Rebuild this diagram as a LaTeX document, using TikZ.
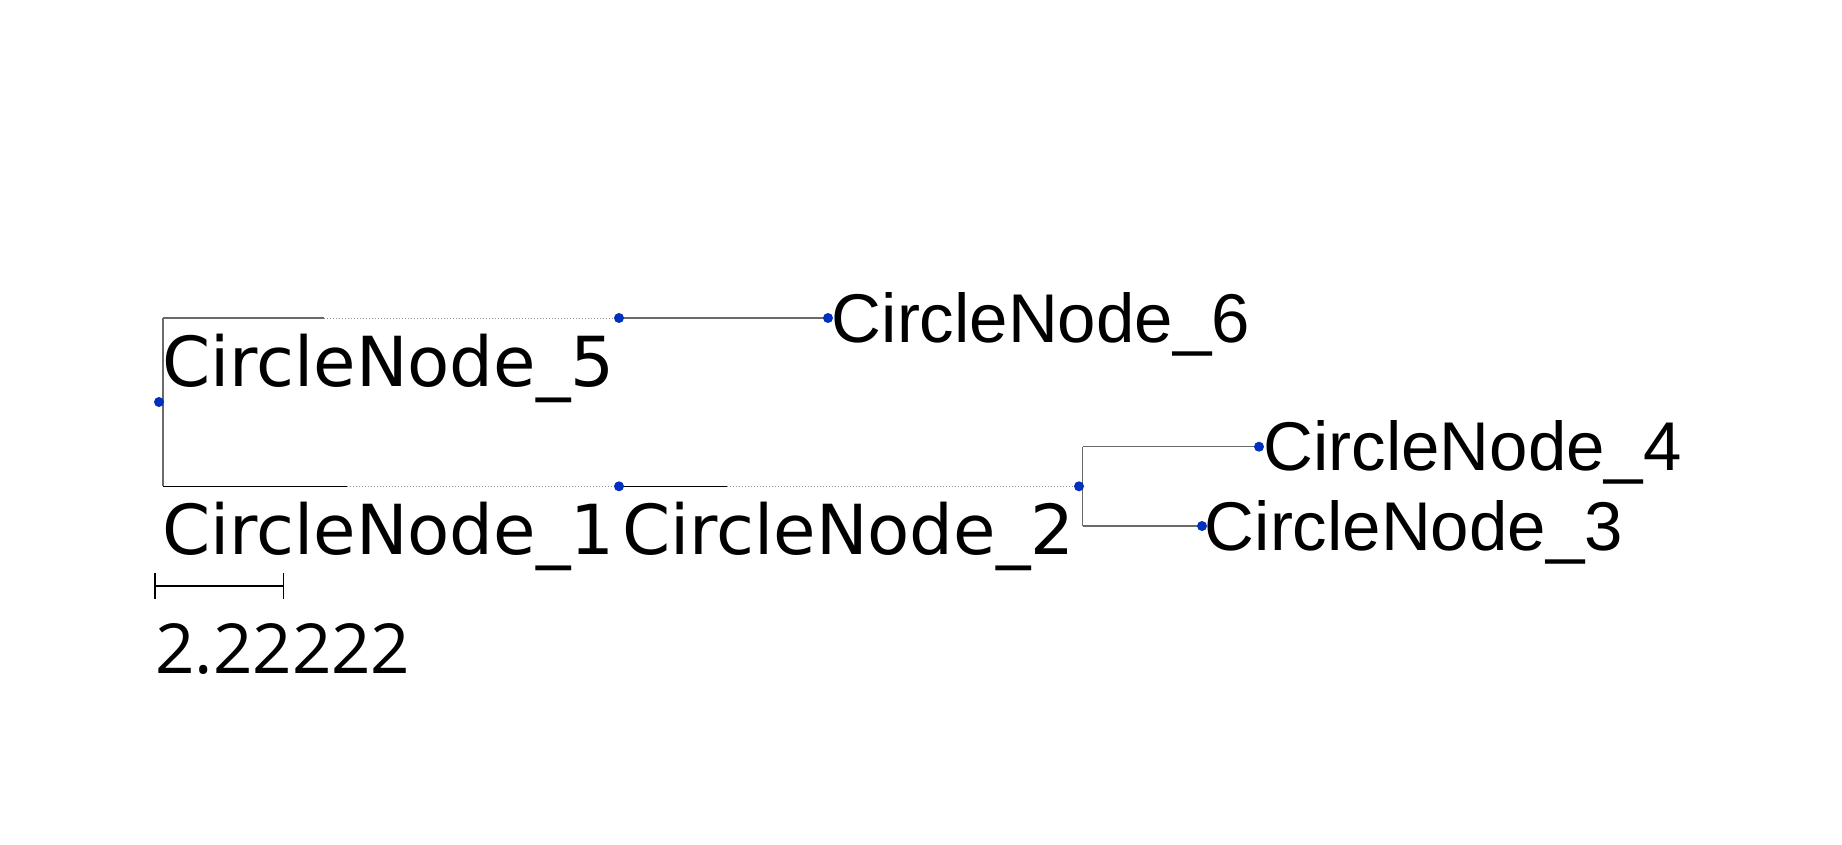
\documentclass[tikz,border=0pt]{standalone}
\usepackage{fontspec}
\setmainfont{DejaVu Sans}
\newfontfamily\arialf{Liberation Sans}
\newfontfamily\scalef{Open Sans}
\usetikzlibrary{backgrounds}
\definecolor{dotblue}{HTML}{0030C0}
\definecolor{brgray}{HTML}{6A6A6A}
\definecolor{dotgray}{HTML}{909090}
\begin{document}
\begin{tikzpicture}[x=0.75pt,y=-0.75pt,
  dotnode/.style={circle,fill=dotblue,draw=none,inner sep=0pt,minimum size=7.5pt},
  lbl/.style={anchor=base west,inner sep=0pt,font=\fontsize{51.75}{60}\selectfont},
  albl/.style={lbl,font=\arialf\fontsize{51.75}{60}\selectfont},
  slbl/.style={lbl,font=\scalef\fontsize{51.75}{60}\selectfont},
  graybr/.style={draw=brgray,line width=0.9pt},
  blackbr/.style={draw=black,line width=1pt},
  dotbr/.style={draw=dotgray,line width=0.75pt,dash pattern=on 0.75pt off 1.5pt},
  scalebar/.style={draw=black,line width=1.2pt}
]
\useasboundingbox (0,0) rectangle (1842,844);
% tree nodes (dots)
\node[dotnode] (n0) at (159,402) {};
\node[dotnode] (n5) at (619,318) {};
\node[dotnode] (n1) at (619,486.3) {};
\node[dotnode] (n6) at (828,318) {};
\node[dotnode] (n2) at (1079,486.3) {};
\node[dotnode] (n4) at (1259,446.7) {};
\node[dotnode] (n3) at (1202,526) {};
% helper coordinates
\coordinate (rt) at (163,318);
\coordinate (rb) at (163,486.3);
\coordinate (s5) at (324,318);
\coordinate (s1) at (346.7,486.3);
\coordinate (s2) at (726.7,486.3);
\coordinate (v2t) at (1082.7,446.7);
\coordinate (v2b) at (1082.7,526);
\coordinate (sbl) at (155,586);
\coordinate (sbr) at (283.3,586);
\coordinate (sblt) at (155,572.7);
\coordinate (sblb) at (155,599.3);
\coordinate (sbrt) at (283.3,572.7);
\coordinate (sbrb) at (283.3,599.3);
\begin{scope}[on background layer]
  \fill[white] (0,0) rectangle (1842,844);
  \draw[graybr] (rt) -- (rb);
  \draw[graybr] (rt) -- (s5);
  \draw[dotbr] (s5) -- (n5.center);
  \draw[blackbr] (rb) -- (s1);
  \draw[dotbr] (s1) -- (n1.center);
  \draw[graybr] (n5.center) -- (n6.center);
  \draw[blackbr] (n1.center) -- (s2);
  \draw[dotbr] (s2) -- (n2.center);
  \draw[graybr] (v2t) -- (v2b);
  \draw[graybr] (v2t) -- (n4.center);
  \draw[graybr] (v2b) -- (n3.center);
\end{scope}
% labels
\node[lbl] (l5) at (162,386) {CircleNode\_5};
\node[lbl] (l1) at (162,554) {CircleNode\_1};
\node[lbl] (l2) at (622,554) {CircleNode\_2};
\node[albl] (l6) at (831.6,342.3) {CircleNode\_6};
\node[albl] (l4) at (1263.3,470.7) {CircleNode\_4};
\node[albl] (l3) at (1204.6,550) {CircleNode\_3};
% scale bar
\draw[scalebar] (sbl) -- (sbr);
\draw[scalebar] (sblt) -- (sblb);
\draw[scalebar] (sbrt) -- (sbrb);
\node[slbl] (sl) at (155,673.3) {2.22222};
\end{tikzpicture}
\end{document}
